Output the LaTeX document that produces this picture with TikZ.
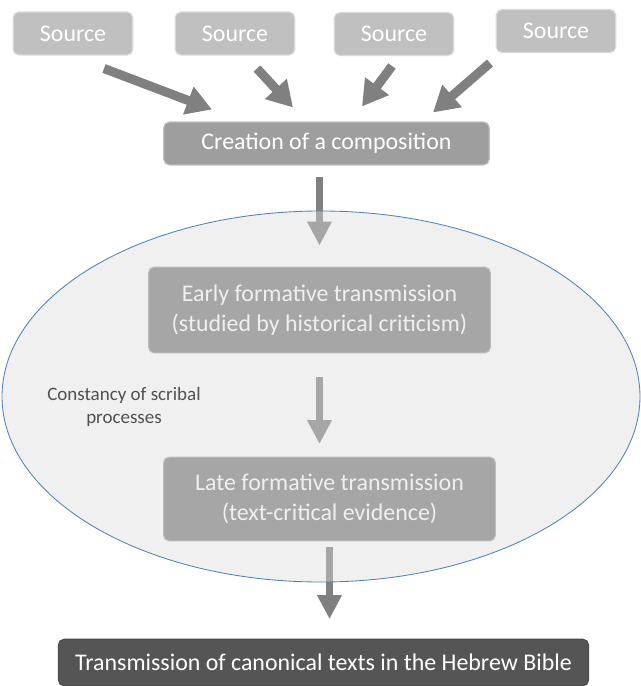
\documentclass[tikz,border=0pt]{standalone}
\usepackage{fontspec}
\setmainfont{Carlito}
\usetikzlibrary{arrows.meta,calc}
\definecolor{srcgray}{RGB}{192,192,192}
\definecolor{cmpgray}{RGB}{158,158,158}
\definecolor{trgray}{RGB}{128,128,128}
\definecolor{fingray}{RGB}{85,85,85}
\definecolor{argray}{RGB}{128,128,128}
\definecolor{ringblue}{RGB}{79,129,189}
\definecolor{ringfill}{RGB}{219,219,219}
\definecolor{notegray}{RGB}{80,80,80}
\tikzset{src/.style = {rectangle, rounded corners=4pt, fill=srcgray, draw=black!15, line width=0.8pt,
                       text=white, minimum width=85pt, minimum height=30.5pt, inner sep=0pt,
                       font=\fontsize{17pt}{21pt}\selectfont},
         cmp/.style = {src, fill=cmpgray, draw=black!25},
         tr/.style  = {src, fill=trgray, draw=black!35, align=center},
         fin/.style = {src, fill=fingray, draw=black!70, minimum width=377pt, minimum height=33pt},
         ar/.style  = {argray, line width=6.5pt, -{Triangle[length=18pt, width=20pt]}},
         dn/.style  = {argray, line width=5.3pt, -{Triangle[length=17pt, width=16.5pt]}},
         ring/.style = {fill=ringfill, fill opacity=0.42, draw=ringblue, draw opacity=1, line width=0.6pt},
         note/.style = {text=notegray, align=center, font=\fontsize{13.5pt}{16.3pt}\selectfont}}

\begin{document}
\begin{tikzpicture}[x=0.025cm, y=-0.025cm]
    \useasboundingbox (0,0) rectangle (640,686);
    \node[src] (s1) at (73,33.5) {Source};
    \node[src] (s2) at (235,33.5) {Source};
    \node[src] (s3) at (394,34) {Source};
    \node[src] (s4) at (556,31) {Source};
    \node[cmp, minimum width=231.5pt] (c) at (326.5,143.5) {Creation of a composition};
    \draw[ar] ($(s1.south)+(31,13)$) -- ($(c.north)+(-114.5,-12)$);
    \draw[ar] ($(s2.south)+(22,13)$) -- ($(c.north)+(-33.5,-14)$);
    \draw[ar] ($(s3.south)+(-2,10)$) -- ($(c.north)+(35.5,-15)$);
    \draw[ar] ($(s4.south)+(-66,10)$) -- ($(c.north)+(106.5,-9)$);
    \node[tr, minimum width=243pt, minimum height=61pt] (e) at (319.5,310)
        {Early formative transmission\\(studied by historical criticism)};
    \node[tr, minimum width=236pt, minimum height=59.5pt] (l) at (329.5,499)
        {Late formative transmission\\(text-critical evidence)};
    \node[fin] (f) at (323.5,662.5) {Transmission of canonical texts in the Hebrew Bible};
    \draw[dn, shorten <=8.5pt, shorten >=15pt] (e |- c.south) -- (e.north);
    \draw[dn, shorten <=17pt, shorten >=9pt] (e.south) -- (e.south |- l.north);
    \draw[dn, shorten <=4pt, shorten >=14pt] (l.south) -- (l.south |- f.north);
    % scribal processes
    \draw[ring] (321,396.5) ellipse [x radius=319, y radius=185.5];
    \node[note] (n) at (124,407) {Constancy of scribal\\processes};
\end{tikzpicture}
\end{document}
